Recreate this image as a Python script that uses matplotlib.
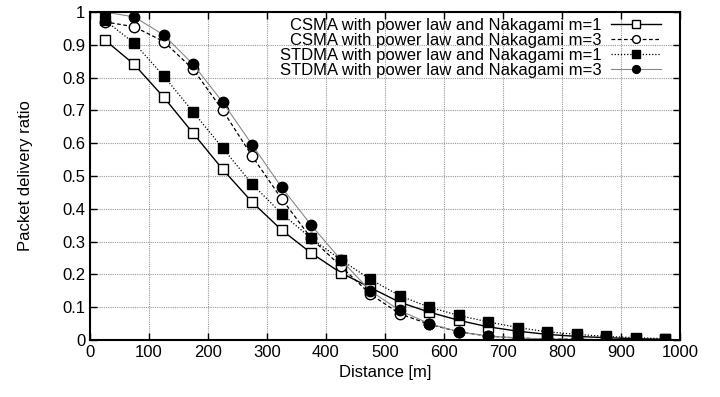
import numpy as np
import matplotlib.pyplot as plt

plt.rcParams['font.family'] = ['Liberation Sans', 'DejaVu Sans']

# distance bins (centres) and delivery ratios per scheme
distance = [25, 75, 125, 175, 225, 275, 325, 375, 425, 475,
            525, 575, 625, 675, 725, 775, 825, 875, 925, 975]
csma_m1 = [0.915, 0.84, 0.74, 0.63, 0.52, 0.42, 0.335, 0.265, 0.205, 0.16,
           0.115, 0.085, 0.06, 0.04, 0.027, 0.017, 0.011, 0.007, 0.004, 0.002]
csma_m3 = [0.97, 0.955, 0.91, 0.825, 0.70, 0.56, 0.43, 0.31, 0.225, 0.14,
           0.08, 0.048, 0.025, 0.012, 0.006, 0.003, 0.002, 0.001, 0.0, 0.0]
stdma_m1 = [0.975, 0.905, 0.805, 0.695, 0.585, 0.475, 0.385, 0.31, 0.245, 0.185,
            0.135, 0.10, 0.075, 0.055, 0.038, 0.025, 0.017, 0.011, 0.007, 0.004]
stdma_m3 = [1.0, 0.985, 0.93, 0.84, 0.725, 0.595, 0.465, 0.35, 0.245, 0.15,
            0.09, 0.05, 0.025, 0.012, 0.006, 0.003, 0.002, 0.001, 0.0, 0.0]

fig = plt.figure(figsize=(7.2, 3.97), dpi=100)
ax = fig.add_axes([90/720, 1 - 340/397, 590/720, 328/397])

ms = 7.5
ax.plot(distance, csma_m1, color='black', lw=1.0, ls='-', marker='s', ms=ms,
        mfc='white', mec='black', mew=1.0,
        label='CSMA with power law and Nakagami m=1')
ax.plot(distance, csma_m3, color='black', lw=0.9, ls=(0, (3, 2)), marker='o', ms=ms,
        mfc='white', mec='black', mew=1.0,
        label='CSMA with power law and Nakagami m=3')
ax.plot(distance, stdma_m1, color='black', lw=0.9, ls=(0, (1, 1.5)), marker='s', ms=ms,
        mfc='black', mec='black',
        label='STDMA with power law and Nakagami m=1')
ax.plot(distance, stdma_m3, color='#888888', lw=0.8, ls='-', marker='o', ms=ms,
        mfc='black', mec='black',
        label='STDMA with power law and Nakagami m=3')

ax.set_xlim(0, 1000)
ax.set_ylim(0, 1)
ax.set_xticks(np.arange(0, 1001, 100))
ax.set_yticks(np.arange(0, 1.01, 0.1))
ax.set_yticklabels(['0', '0.1', '0.2', '0.3', '0.4', '0.5', '0.6', '0.7', '0.8', '0.9', '1'])
ax.tick_params(direction='in', top=True, right=True, labelsize=12, length=5, width=1)
ax.grid(True, color='#999999', ls=(0, (1, 1)), lw=0.8)
for s in ax.spines.values():
    s.set_linewidth(1.5)

ax.set_xlabel('Distance [m]', fontsize=12)
ax.set_ylabel('Packet delivery ratio', fontsize=12, labelpad=21)

# markerfirst=False puts the samples on the right and right-aligns the labels
ax.legend(loc='upper right', frameon=False, markerfirst=False, numpoints=1,
          markerscale=0.75, handlelength=3.0, fontsize=12, labelspacing=0.0,
          borderaxespad=0.0, borderpad=0.35, handletextpad=0.6,
          bbox_to_anchor=(0.978, 1.0))

fig.savefig('out.png', dpi=100)
